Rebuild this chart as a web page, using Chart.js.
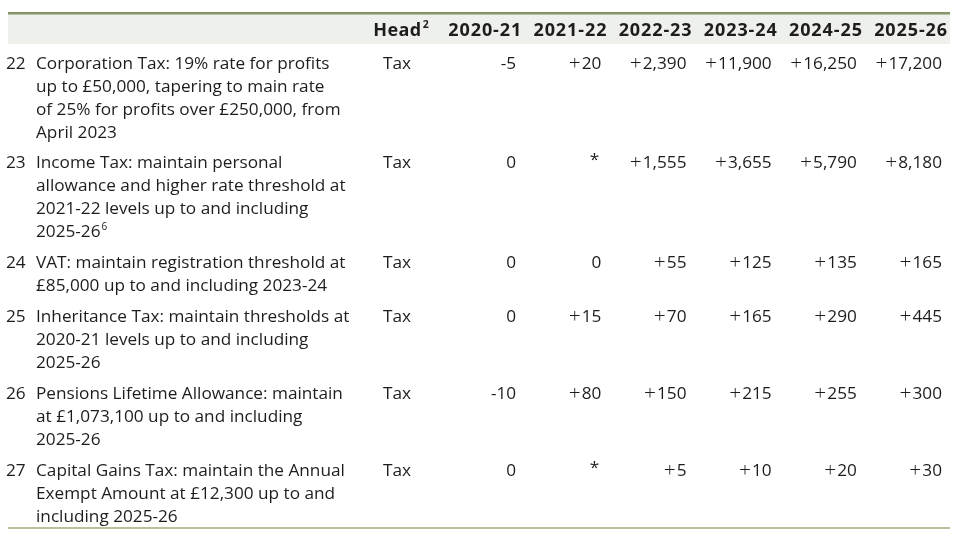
<!DOCTYPE html>
<html>
<head>
<meta charset="utf-8">
<script src="https://cdn.jsdelivr.net/npm/chart.js@4.4.1/dist/chart.umd.min.js"></script>
<style>
  html, body { margin: 0; padding: 0; background: #fff; }
  #wrap { width: 960px; height: 538px; position: relative; }
</style>
</head>
<body>
<div id="wrap"><canvas id="tbl"></canvas></div>
<script>
// ===== Table data =====
const years = ['2020-21', '2021-22', '2022-23', '2023-24', '2024-25', '2025-26'];
const rowNumbers = ['22', '23', '24', '25', '26', '27'];
const heads = ['Tax', 'Tax', 'Tax', 'Tax', 'Tax', 'Tax'];
const descriptions = [
    ['Corporation Tax: 19% rate for profits', 'up to £50,000, tapering to main rate', 'of 25% for profits over £250,000, from', 'April 2023'],
    ['Income Tax: maintain personal', 'allowance and higher rate threshold at', '2021-22 levels up to and including', '2025-26^6'],
    ['VAT: maintain registration threshold at', '£85,000 up to and including 2023-24'],
    ['Inheritance Tax: maintain thresholds at', '2020-21 levels up to and including', '2025-26'],
    ['Pensions Lifetime Allowance: maintain', 'at £1,073,100 up to and including', '2025-26'],
    ['Capital Gains Tax: maintain the Annual', 'Exempt Amount at £12,300 up to and', 'including 2025-26']
];
// values per measure, one entry per year
const corporationTax = ['-5', '+20', '+2,390', '+11,900', '+16,250', '+17,200'];
const incomeTax      = ['0', '*', '+1,555', '+3,655', '+5,790', '+8,180'];
const vat            = ['0', '0', '+55', '+125', '+135', '+165'];
const inheritanceTax = ['0', '+15', '+70', '+165', '+290', '+445'];
const pensionsLTA    = ['-10', '+80', '+150', '+215', '+255', '+300'];
const capitalGains   = ['0', '*', '+5', '+10', '+20', '+30'];
const rowValues = [corporationTax, incomeTax, vat, inheritanceTax, pensionsLTA, capitalGains];
const headerHead = 'Head^2';

// ===== Layout in "line" units (y scale) =====
const HEADER_LINE = 0.76, BAND_END = 1.35, FIRST_LINE = 2.2, ROW_GAP = 0.34, TABLE_END = 22.39;
const rowStart = [];
let acc = FIRST_LINE;
descriptions.forEach(d => { rowStart.push(acc); acc += d.length + ROW_GAP; });

// points: one per value cell, drawn as text by the plugin
const cells = [];
rowValues.forEach((vals, r) => vals.forEach((v, c) => cells.push({x: years[c], y: rowStart[r], text: v})));

const FONT = '"Open Sans", "Noto Sans", sans-serif';
const SIZE = 17.2;
const INK = '#1f1c1d';

function drawSup(ctx, str, x, y, size, weight, align) {
    // "text^sup" -> superscript after text
    const parts = str.split('^');
    const supSize = size * 0.58;
    ctx.font = weight + ' ' + size + 'px ' + FONT;
    const w1 = ctx.measureText(parts[0]).width;
    let w2 = 0;
    if (parts[1]) { ctx.font = weight + ' ' + supSize + 'px ' + FONT; w2 = ctx.measureText(parts[1]).width + 1; }
    const x0 = align === 'right' ? x - w1 - w2 : x;
    ctx.textAlign = 'left';
    ctx.font = weight + ' ' + size + 'px ' + FONT;
    ctx.fillText(parts[0], x0, y);
    if (parts[1]) {
        ctx.font = weight + ' ' + supSize + 'px ' + FONT;
        ctx.fillText(parts[1], x0 + w1 + 1, y - size * 0.28);
    }
}

const tablePlugin = {
    id: 'tableText',
    beforeDatasetsDraw(chart) {
        const {ctx, scales: {x, y}} = chart;
        const left = 8, right = 950;
        ctx.save();
        // header band and rules
        const yTop = y.getPixelForValue(0), yBand = y.getPixelForValue(BAND_END), yEnd = y.getPixelForValue(TABLE_END);
        ctx.fillStyle = '#eef0eb';
        ctx.fillRect(left, yTop, right - left, yBand - yTop);
        ctx.fillStyle = '#849467';
        ctx.fillRect(left, yTop - 1, right - left, 2.5);
        ctx.fillStyle = '#b9c09c';
        ctx.fillRect(left, yEnd - 1, right - left, 2);

        ctx.fillStyle = INK;
        ctx.textBaseline = 'middle';
        const half = x.width / years.length / 2;
        // header
        const yh = y.getPixelForValue(HEADER_LINE);
        ctx.letterSpacing = '0.9px';
        years.forEach((yr, i) => {
            ctx.font = 'bold 18px ' + FONT;
            ctx.textAlign = 'right';
            ctx.fillText(yr, x.getPixelForValue(i) + half - 2, yh);
        });
        ctx.letterSpacing = '0.4px';
        drawSup(ctx, headerHead, 429, yh, 18, 'bold', 'right');
        ctx.letterSpacing = '0px';

        // left columns
        descriptions.forEach((lines, r) => {
            const y0 = y.getPixelForValue(rowStart[r]);
            ctx.font = SIZE + 'px ' + FONT;
            ctx.textAlign = 'left';
            ctx.fillText(rowNumbers[r], 6, y0);
            ctx.fillText(heads[r], 383, y0);
            lines.forEach((ln, k) => drawSup(ctx, ln, 36, y.getPixelForValue(rowStart[r] + k), SIZE, 'normal', 'left'));
        });
        ctx.restore();
    },
    afterDatasetsDraw(chart) {
        const {ctx} = chart;
        const half = chart.scales.x.width / years.length / 2;
        const meta = chart.getDatasetMeta(0);
        ctx.save();
        ctx.fillStyle = INK;
        ctx.font = SIZE + 'px ' + FONT;
        ctx.textBaseline = 'middle';
        meta.data.forEach((pt, i) => {
            const t = cells[i].text;
            const xr = pt.x + half - 8;
            ctx.textAlign = 'right';
            if (t === '*') { ctx.fillText(t, xr - 2, pt.y - 3); return; }
            if (t[0] === '+') {
                // wider plus sign, set slightly apart like the original typeface
                const body = t.slice(1);
                ctx.fillText(body, xr, pt.y);
                const w = ctx.measureText(body).width;
                ctx.font = '300 21px ' + FONT;
                ctx.fillText('+', xr - w - 1, pt.y);
                ctx.font = SIZE + 'px ' + FONT;
            } else {
                ctx.fillText(t, xr, pt.y);
            }
        });
        ctx.restore();
    }
};

const chart = new Chart(document.getElementById('tbl').getContext('2d'), {
    type: 'scatter',
    data: {
        labels: years,
        datasets: [{data: cells, pointRadius: 0, pointHoverRadius: 0}]
    },
    options: {
        responsive: true,
        maintainAspectRatio: false,
        animation: false,
        events: [],
        layout: {padding: {left: 439, right: 10, top: 13, bottom: 10}},
        plugins: {legend: {display: false}, tooltip: {enabled: false}},
        scales: {
            x: {type: 'category', labels: years, offset: true, display: false},
            y: {type: 'linear', min: 0, max: TABLE_END, reverse: true, display: false}
        }
    },
    plugins: [tablePlugin]
});
</script>
</body>
</html>
